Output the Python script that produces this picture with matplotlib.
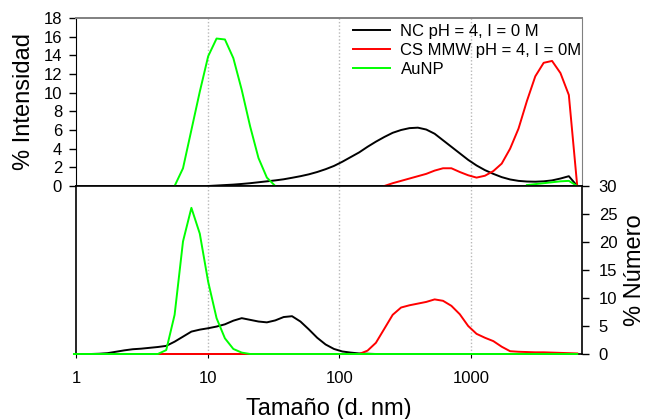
import matplotlib

matplotlib.use("Agg")

import matplotlib.pyplot as plt
from matplotlib.ticker import FixedLocator, NullLocator


plt.rcParams["font.family"] = ["Liberation Sans", "DejaVu Sans"]




# DATA (Malvern size bins, d. nm)
SIZE_BINS = [
    0.9649, 1.117, 1.294, 1.499, 1.736, 2.010, 2.328, 2.696, 3.122, 3.615,
    4.187, 4.849, 5.615, 6.503, 7.531, 8.721, 10.10, 11.70, 13.54, 15.69,
    18.17, 21.04, 24.36, 28.21, 32.67, 37.84, 43.82, 50.75, 58.77, 68.06,
    78.82, 91.28, 105.7, 122.4, 141.8, 164.2, 190.1, 220.2, 255.0, 295.3,
    342.0, 396.1, 458.7, 531.2, 615.1, 712.4, 825.0, 955.4, 1106, 1281,
    1484, 1718, 1990, 2305, 2669, 3091, 3580, 4145, 4801, 5560, 6439,
]

LABELS = [
    "NC pH = 4, I = 0 M",
    "CS MMW pH = 4, I = 0M",
    "AuNP",
]

# % Intensidad (first bin index, values)
NC_INT_START = 16
NC_INTENSITY = [
    0.0, 0.05, 0.1, 0.15, 0.22, 0.3, 0.4, 0.5, 0.6, 0.72,
    0.88, 1.05, 1.25, 1.5, 1.8, 2.15, 2.6, 3.1, 3.6, 4.2,
    4.75, 5.25, 5.7, 6.0, 6.2, 6.25, 6.05, 5.6, 4.9, 4.2,
    3.5, 2.8, 2.2, 1.7, 1.3, 0.95, 0.7, 0.55, 0.48, 0.46,
    0.5, 0.6, 0.8, 1.05, 0.0,
]

CS_INT_START = 37
CS_INTENSITY = [
    0.0, 0.3, 0.55, 0.8, 1.05, 1.3, 1.65, 1.9, 1.9, 1.5,
    1.15, 0.9, 1.1, 1.6, 2.4, 4.0, 6.15, 9.1, 11.75, 13.2,
    13.4, 12.1, 9.75, 0.0,
]

AU_INT_START = 12
AU_INTENSITY = [
    0.0, 1.9, 6.0, 10.1, 13.9, 15.8, 15.7, 13.7, 10.3, 6.4,
    3.0, 0.9, 0.0,
]

AU_INT_TAIL_START = 54
AU_INTENSITY_TAIL = [0.1, 0.2, 0.3, 0.4, 0.5, 0.55, 0.0]

# % Numero
NC_NUM_START = 1
NC_NUMBER = [
    0.0, 0.0, 0.05, 0.15, 0.4, 0.65, 0.85, 0.95, 1.1, 1.25,
    1.45, 2.2, 3.1, 4.0, 4.35, 4.6, 4.9, 5.3, 5.95, 6.4,
    6.1, 5.8, 5.65, 6.0, 6.6, 6.75, 5.8, 4.4, 2.9, 1.7,
    0.9, 0.45, 0.25, 0.1, 0.05, 0.0, 0.0, 0.0, 0.0, 0.0,
    0.0, 0.0, 0.0, 0.0, 0.0, 0.0, 0.0, 0.0, 0.0, 0.0,
    0.0, 0.0, 0.0, 0.0, 0.0, 0.0, 0.0, 0.0, 0.0, 0.0,
]

CS_NUM_START = 10
CS_NUMBER = [
    0.0, 0.0, 0.0, 0.0, 0.0, 0.0, 0.0, 0.0, 0.0, 0.0,
    0.0, 0.0, 0.0, 0.0, 0.0, 0.0, 0.0, 0.0, 0.0, 0.0,
    0.0, 0.0, 0.0, 0.0, 0.0, 0.6, 2.0, 4.5, 7.0, 8.3,
    8.7, 9.0, 9.3, 9.75, 9.5, 8.6, 7.1, 5.0, 3.6, 2.9,
    2.3, 1.3, 0.5, 0.4, 0.35, 0.3, 0.3, 0.25, 0.2, 0.15,
    0.1,
]

AU_NUM_START = 0
AU_NUMBER = [
    0.0, 0.0, 0.0, 0.0, 0.0, 0.0, 0.0, 0.0, 0.0, 0.0,
    0.0, 0.7, 7.0, 20.1, 26.1, 21.5, 12.9, 6.4, 2.8, 0.9,
    0.25, 0.0, 0.0, 0.0, 0.0, 0.0, 0.0, 0.0, 0.0, 0.0,
    0.0, 0.0, 0.0, 0.0, 0.0, 0.0, 0.0, 0.0, 0.0, 0.0,
    0.0, 0.0, 0.0, 0.0, 0.0, 0.0, 0.0, 0.0, 0.0, 0.0,
    0.0, 0.0, 0.0, 0.0, 0.0, 0.0, 0.0, 0.0, 0.0, 0.0,
    0.0,
]

INT_TICKS = list(range(0, 19, 2))
NUM_TICKS = list(range(0, 31, 5))
X_TICKS = [1, 10, 100, 1000]
GRID_SIZES = [10, 100, 1000]

COLORS = ["black", "#ff0000", "#00ff00"]




# HELPERS
def sizes_for(start, values):
    return SIZE_BINS[start:start + len(values)]


def draw(axis, start, values, color, label=None):
    axis.plot(
        sizes_for(start, values),
        values,
        color=color,
        lw=1.4,
        label=label,
        zorder=3,
        clip_on=False,
    )


def style_axis(axis):
    axis.set_xscale("log")
    axis.set_xlim(1, 7000)
    axis.xaxis.set_minor_locator(NullLocator())
    axis.yaxis.set_minor_locator(NullLocator())

    for size in GRID_SIZES:
        axis.axvline(
            size,
            color="#b8b8b8",
            ls=(0, (1, 1.5)),
            lw=1.0,
            zorder=1,
        )




# FIGURE
figure = plt.figure(figsize=(6.49, 4.19), dpi=100)

left = 76 / 649
width = (582 - 76) / 649

ax_int = figure.add_axes([left, 1 - 186 / 419, width, 168 / 419])
ax_num = figure.add_axes([left, 1 - 354 / 419, width, 168 / 419])

style_axis(ax_int)
style_axis(ax_num)

# top panel: % Intensidad
draw(ax_int, NC_INT_START, NC_INTENSITY, COLORS[0], LABELS[0])
draw(ax_int, CS_INT_START, CS_INTENSITY, COLORS[1], LABELS[1])
draw(ax_int, AU_INT_START, AU_INTENSITY, COLORS[2], LABELS[2])
draw(ax_int, AU_INT_TAIL_START, AU_INTENSITY_TAIL, COLORS[2])

ax_int.set_ylim(0, 18)
ax_int.yaxis.set_major_locator(FixedLocator(INT_TICKS))
ax_int.tick_params(
    axis="y",
    direction="out",
    length=5,
    width=1,
    pad=5,
    labelsize=12,
)
ax_int.tick_params(axis="x", length=0, labelbottom=False)
ax_int.set_ylabel("% Intensidad", fontsize=17, labelpad=6)

ax_int.spines["top"].set_color("#808080")
ax_int.spines["right"].set_color("#808080")
ax_int.spines["top"].set_linewidth(1.4)
ax_int.spines["bottom"].set_linewidth(1.2)

ax_int.legend(
    loc="upper left",
    bbox_to_anchor=((353 - 76) / 506, (186 - 24) / 168),
    frameon=False,
    fontsize=12,
    handlelength=2.2,
    handletextpad=0.65,
    labelspacing=0.24,
    borderpad=0,
    borderaxespad=0,
)

# bottom panel: % Numero
draw(ax_num, NC_NUM_START, NC_NUMBER, COLORS[0])
draw(ax_num, CS_NUM_START, CS_NUMBER, COLORS[1])
draw(ax_num, AU_NUM_START, AU_NUMBER, COLORS[2])

ax_num.set_ylim(0, 30)
ax_num.yaxis.set_major_locator(FixedLocator(NUM_TICKS))
ax_num.yaxis.tick_right()
ax_num.yaxis.set_label_position("right")
ax_num.tick_params(
    axis="y",
    direction="out",
    length=5,
    width=1,
    pad=7,
    labelsize=12,
)
ax_num.set_ylabel("% Número", fontsize=17, labelpad=5)

ax_num.xaxis.set_major_locator(FixedLocator(X_TICKS))
ax_num.set_xticklabels([str(t) for t in X_TICKS])
ax_num.tick_params(axis="x", direction="out", length=3, pad=9, labelsize=12)
ax_num.set_xlabel("Tamaño (d. nm)", fontsize=17, labelpad=9)

for spine in ax_num.spines.values():
    spine.set_linewidth(1.2)

figure.savefig("out.png", dpi=100)
